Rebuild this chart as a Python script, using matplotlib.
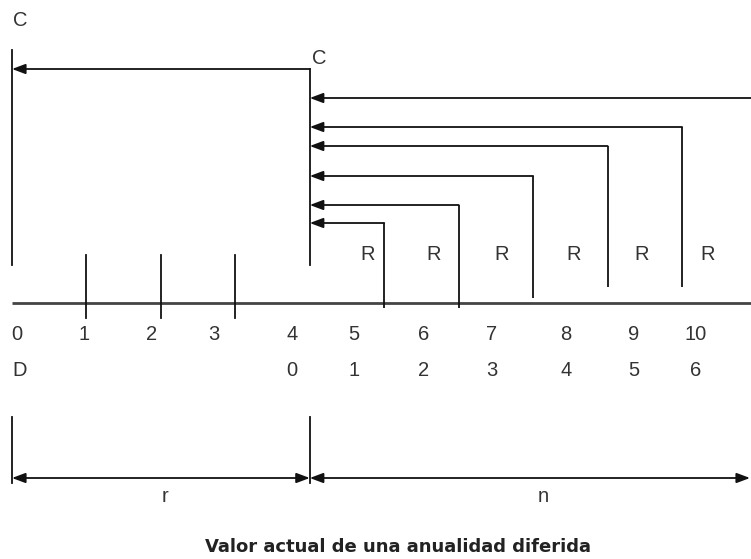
import matplotlib
matplotlib.use("Agg")
import matplotlib.pyplot as plt

# data: periods of the time line and the payments
periods = list(range(11))
period_labels = [str(p) for p in periods]
deferred_labels = ["D", "", "", "", "0", "1", "2", "3", "4", "5", "6"]
deferral = 4                      # r: payments deferred 4 periods
payment_periods = [5, 6, 7, 8, 9, 10]
payment_label = "R"
value_label = "C"
title = "Valor actual de una anualidad diferida"

# layout (pixel coordinates, y grows downwards)
W, H = 751, 559
x0, step = 12, 74.45
def px(p):
    return x0 + step * p

label_x = [17, 84, 152, 214, 292, 354, 424, 492, 566, 634, 696]
axis_y = 303
arrow_y = {10: 98, 9: 127, 8: 146, 7: 176, 6: 205, 5: 223}
drop_y = {5: 308, 6: 308, 7: 298, 8: 287, 9: 287, 10: 287}
R_x = [368, 434, 502, 574, 642, 708]

fig = plt.figure(figsize=(W / 100, H / 100), dpi=100)
ax = fig.add_axes([0, 0, 1, 1])
ax.set_xlim(0, W)
ax.set_ylim(H, 0)
ax.axis("off")

lc = "#111111"
tc = "#333333"
lw = 1.3
font = dict(family="Liberation Sans", fontsize=14.5, color=tc)
head = "-|>,head_length=0.8,head_width=0.3"

def arrow(tip, tail, style=head):
    ax.annotate("", xy=tip, xytext=tail,
                arrowprops=dict(arrowstyle=style, color=lc, lw=lw,
                                shrinkA=0, shrinkB=0, mutation_scale=10))

# time axis
ax.plot([px(0), W], [axis_y, axis_y], color="#444444", lw=2, solid_capstyle="butt")

# ticks of the deferral periods
ax.plot([px(0), px(0)], [50, 265], color=lc, lw=lw)
for p in periods[1:deferral]:
    ax.plot([px(p), px(p)], [255, 318], color=lc, lw=lw)
ax.plot([px(deferral), px(deferral)], [69, 265], color=lc, lw=lw)

# C at 4 carried back to 0
arrow((px(0), 69), (px(deferral), 69))
ax.text(px(0) + 1, 20, value_label, ha="left", va="center", **font)
ax.text(px(deferral) + 2, 58, value_label, ha="left", va="center", **font)

# payments R discounted to period 4
for p in payment_periods:
    xr = min(px(p), W + 5)
    ya = arrow_y[p]
    ax.plot([xr, xr], [ya, drop_y[p]], color=lc, lw=lw, solid_capstyle="butt")
    arrow((px(deferral), ya), (xr, ya))
for x in R_x:
    ax.text(x, 254, payment_label, ha="center", va="center", **font)

# period labels
for x, t in zip(label_x, period_labels):
    ax.text(x, 334, t, ha="center", va="center", **font)
for x, t in zip(label_x, deferred_labels):
    if t:
        ax.text(x + (3 if t == "D" else 0), 371, t, ha="center", va="center", **font)

# r and n brackets
for p in [0, deferral]:
    ax.plot([px(p), px(p)], [417, 483], color=lc, lw=lw)
dbl = "<|-|>,head_length=0.8,head_width=0.3"
arrow((px(deferral), 478), (px(0), 478), dbl)
arrow((W - 1, 478), (px(deferral), 478), dbl)
ax.text((px(0) + px(deferral)) / 2 + 4, 496, "r", ha="center", va="center", **font)
ax.text(543, 496, "n", ha="center", va="center", **font)

ax.text(398, 547, title, ha="center", va="center", family="DejaVu Sans",
        fontweight="bold", fontsize=13, color="#222222")

fig.savefig("out.png", dpi=100)
